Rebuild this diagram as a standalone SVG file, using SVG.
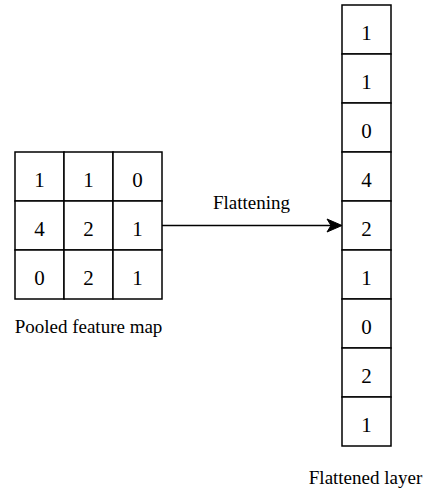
<svg xmlns="http://www.w3.org/2000/svg" width="424" height="492" viewBox="0 0 424 492">
  <style>
    .cell { fill: #fff; stroke: #000; stroke-width: 1.5; }
    .num { font-size: 21px; fill: #000; text-anchor: middle; }
    .lbl { font-size: 19px; fill: #000; text-anchor: middle; }
    .edge { stroke: #000; stroke-width: 1.5; fill: none; }
  </style>
  <rect width="424" height="492" fill="#fff"/>

  <g font-family="'Liberation Serif', 'DejaVu Serif', serif">
  <!-- 3x3 pooled feature map -->
  <g id="pooled-map">
    <rect class="cell" x="15" y="152" width="49" height="49"/>
    <rect class="cell" x="64" y="152" width="49" height="49"/>
    <rect class="cell" x="113" y="152" width="49" height="49"/>
    <rect class="cell" x="15" y="201" width="49" height="49"/>
    <rect class="cell" x="64" y="201" width="49" height="49"/>
    <rect class="cell" x="113" y="201" width="49" height="49"/>
    <rect class="cell" x="15" y="250" width="49" height="49"/>
    <rect class="cell" x="64" y="250" width="49" height="49"/>
    <rect class="cell" x="113" y="250" width="49" height="49"/>
    <text class="num" x="39.5" y="186.5">1</text>
    <text class="num" x="88.5" y="186.5">1</text>
    <text class="num" x="137.5" y="186.5">0</text>
    <text class="num" x="39.5" y="235.5">4</text>
    <text class="num" x="88.5" y="235.5">2</text>
    <text class="num" x="137.5" y="235.5">1</text>
    <text class="num" x="39.5" y="284.5">0</text>
    <text class="num" x="88.5" y="284.5">2</text>
    <text class="num" x="137.5" y="284.5">1</text>
  </g>
  <g id="pooled-label">
    <text class="lbl" x="88.5" y="332.5">Pooled feature map</text>
  </g>

  <!-- 9x1 flattened column -->
  <g id="flattened-layer">
    <rect class="cell" x="342" y="5" width="49" height="49"/>
    <rect class="cell" x="342" y="54" width="49" height="49"/>
    <rect class="cell" x="342" y="103" width="49" height="49"/>
    <rect class="cell" x="342" y="152" width="49" height="49"/>
    <rect class="cell" x="342" y="201" width="49" height="49"/>
    <rect class="cell" x="342" y="250" width="49" height="49"/>
    <rect class="cell" x="342" y="299" width="49" height="49"/>
    <rect class="cell" x="342" y="348" width="49" height="49"/>
    <rect class="cell" x="342" y="397" width="49" height="49"/>
    <text class="num" x="366.5" y="39.5">1</text>
    <text class="num" x="366.5" y="88.5">1</text>
    <text class="num" x="366.5" y="137.5">0</text>
    <text class="num" x="366.5" y="186.5">4</text>
    <text class="num" x="366.5" y="235.5">2</text>
    <text class="num" x="366.5" y="284.5">1</text>
    <text class="num" x="366.5" y="333.5">0</text>
    <text class="num" x="366.5" y="382.5">2</text>
    <text class="num" x="366.5" y="431.5">1</text>
  </g>
  <g id="flattened-label">
    <text class="lbl" x="365.5" y="484">Flattened layer</text>
  </g>

  <!-- connector -->
  <g id="connectors">
    <line class="edge" x1="162" y1="225.5" x2="332" y2="225.5"/>
    <path d="M342,225.5 L327,219 L331,225.5 L327,232 Z" fill="#000" stroke="#000" stroke-width="1"/>
    <text class="lbl" x="251.5" y="209.3">Flattening</text>
  </g>
  </g>
</svg>
